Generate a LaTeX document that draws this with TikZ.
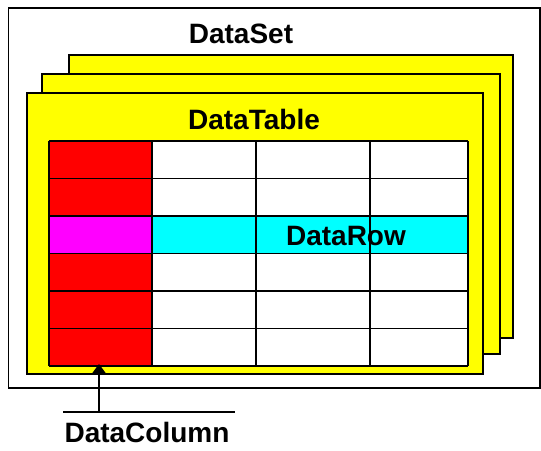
\documentclass[tikz,border=0pt]{standalone}
\usepackage{fontspec}
\setmainfont{Liberation Sans}
\usetikzlibrary{arrows.meta}
\definecolor{ylw}{RGB}{255,255,0}
\definecolor{rd}{RGB}{255,0,0}
\definecolor{mag}{RGB}{255,0,255}
\definecolor{cyn}{RGB}{0,255,255}
\begin{document}
\begin{tikzpicture}[x=1pt,y=-1pt,
  frame/.style={draw=black,line width=1.5pt},
  sheet/.style={frame,fill=ylw},
  cell/.style={draw=black,line width=1.4pt},
  lbl/.style={font=\fontsize{28}{30}\selectfont\bfseries,anchor=base,inner sep=0pt}]
\useasboundingbox (0,0) rectangle (541,450);
% outer DataSet box
\draw[frame] (8.5,8) rectangle (540,388);
\node[lbl] (ds) at (241,43) {DataSet};
% sheets
\draw[sheet] (69,55) rectangle (513,338);
\draw[sheet] (42,74) rectangle (500,354);
\draw[sheet] (27,93) rectangle (483,374);
\node[lbl] (dt) at (254,129) {DataTable};
% table
\fill[rd] (49,141) rectangle (152,366);
\fill[white] (152,141) rectangle (468,366);
\fill[mag] (49,216) rectangle (152,253.5);
\fill[cyn] (152,216) rectangle (468,253.5);
\foreach \y in {141,178.5,216,253.5,291,328.5,366} \draw[cell] (49,\y) -- (468,\y);
\foreach \x in {49,152,256,370,468} \draw[cell] (\x,141) -- (\x,366);
\node[lbl] (dr) at (346,245) {DataRow};
% DataColumn pointer
\coordinate (tip) at (99,364);
\coordinate (base) at (99,412);
\draw[line width=1.4pt] (63,412) -- (235,412);
\draw[line width=1.4pt,-{Triangle[width=13pt,length=9pt]}] (base) -- (tip);
\node[lbl] (dc) at (147,442) {DataColumn};
\end{tikzpicture}
\end{document}
